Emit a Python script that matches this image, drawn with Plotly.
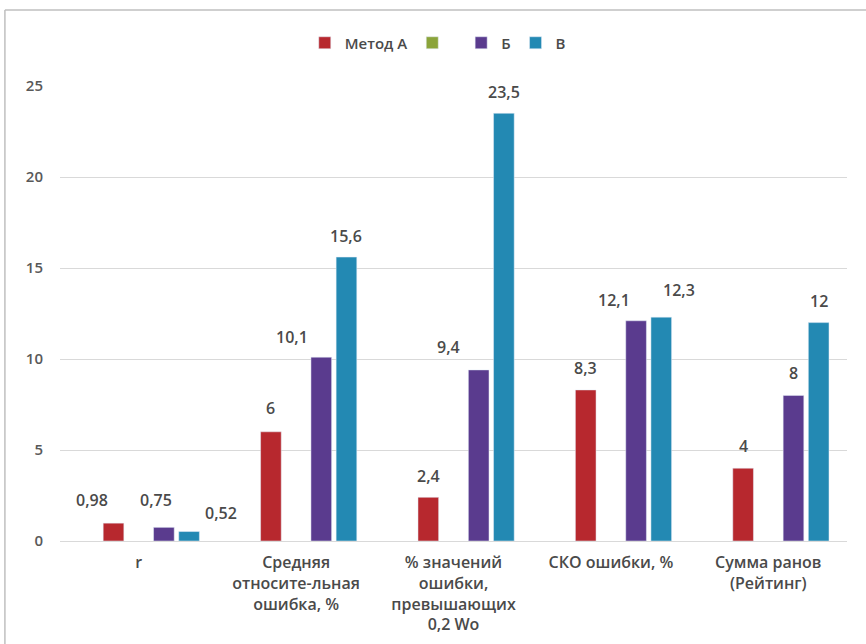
import plotly.graph_objects as go

categories = ["r", "Средняя<br>относите-льная<br>ошибка, %", "% значений<br>ошибки,<br>превышающих<br>0,2 Wo",
              "СКО ошибки, %", "Сумма ранов<br>(Рейтинг)"]
series_names = ["Метод А", " ", "Б", "В"]
values_a = [0.98, 6, 2.4, 8.3, 4]
values_g = [None, None, None, None, None]
values_b = [0.75, 10.1, 9.4, 12.1, 8]
values_v = [0.52, 15.6, 23.5, 12.3, 12]
labels_a = ["0,98", "6", "2,4", "8,3", "4"]
labels_b = ["0,75", "10,1", "9,4", "12,1", "8"]
labels_v = ["0,52", "15,6", "23,5", "12,3", "12"]
y_ticks = [0, 5, 10, 15, 20, 25]

colors = ["#B7282E", "#8BA43A", "#5A3B8E", "#2389B3"]
FONT = "Open Sans, DejaVu Sans, sans-serif"
TXT = "#4A4A4A"

W, H = 866, 644
ML, MR, MT, MB = 60, 19, 86, 103
BARGAP, GROUPGAP = 0.2, 0.18
N_SLOTS = 5  # blank slot + 4 series per group

fig = go.Figure()
# blank leading slot in each group (as in the original chart)
fig.add_trace(go.Bar(x=categories, y=[None] * 5, showlegend=False, hoverinfo="skip"))
fig.add_trace(go.Bar(x=categories, y=values_a, name=series_names[0], marker_color=colors[0]))
fig.add_trace(go.Bar(x=categories, y=values_g, name=series_names[1], marker_color=colors[1]))
fig.add_trace(go.Bar(x=categories, y=values_b, name=series_names[2], marker_color=colors[2]))
fig.add_trace(go.Bar(x=categories, y=values_v, name=series_names[3], marker_color=colors[3]))

# data labels placed above each bar, as in the source chart (manual nudges as in the original)
cat_w = (W - ML - MR) / len(categories)
slot = cat_w * (1 - BARGAP) / N_SLOTS
label_sets = [
    (values_a, labels_a, -1, [-22, 0, 0, 0, 0], [23, 24, 21, 22, 22]),
    (values_b, labels_b, 1, [-8, -29, -30, -22, 0], [27, 20, 23, 21, 22]),
    (values_v, labels_v, 2, [32, 0, 0, 18, 0], [19, 21, 21, 27, 22]),
]
annotations = []
for vals, labs, pos, nx, ny in label_sets:
    for i, (v, t) in enumerate(zip(vals, labs)):
        annotations.append(dict(
            x=categories[i], y=v, xref="x", yref="y", text=t, showarrow=False,
            xshift=pos * slot + nx[i], yshift=ny[i], xanchor="center", yanchor="middle",
            font=dict(family=FONT, size=16, color=TXT, weight=600)))

fig.update_layout(
    width=W, height=H,
    margin=dict(l=ML, r=MR, t=MT, b=MB),
    paper_bgcolor="white", plot_bgcolor="white",
    barmode="group", bargap=BARGAP, bargroupgap=GROUPGAP,
    font=dict(family=FONT, size=16, color=TXT),
    legend=dict(orientation="h", x=0.48, xanchor="center", y=1.0945, yanchor="middle",
                font=dict(family=FONT, size=15, color=TXT, weight=600),
                itemwidth=30, tracegroupgap=0, bgcolor="rgba(0,0,0,0)"),
    xaxis=dict(showgrid=False, showline=False, ticks="", automargin=False,
               tickfont=dict(family=FONT, size=16, color=TXT, weight=600), tickangle=0,
               ticklabelstandoff=10),
    yaxis=dict(range=[0, 25], tickvals=y_ticks, showgrid=True, gridcolor="#D9D9D9", gridwidth=1,
               zeroline=True, zerolinecolor="#D9D9D9", zerolinewidth=1, automargin=False,
               tickfont=dict(family=FONT, size=15, color="#595959", weight=600), ticks="", ticklen=0,
               ticklabelstandoff=16),
    annotations=annotations,
    shapes=[
        dict(type="line", xref="paper", yref="paper", x0=-0.07, x1=1.05, y0=1.167, y1=1.167,
             line=dict(color="#BFBFBF", width=1.5)),
        dict(type="line", xref="paper", yref="paper", x0=-0.07, x1=-0.07, y0=-0.3, y1=1.167,
             line=dict(color="#BFBFBF", width=1.5)),
    ],
)

fig.write_html("out.html", config={"displayModeBar": False},
               post_script="document.body.style.margin='0';")
